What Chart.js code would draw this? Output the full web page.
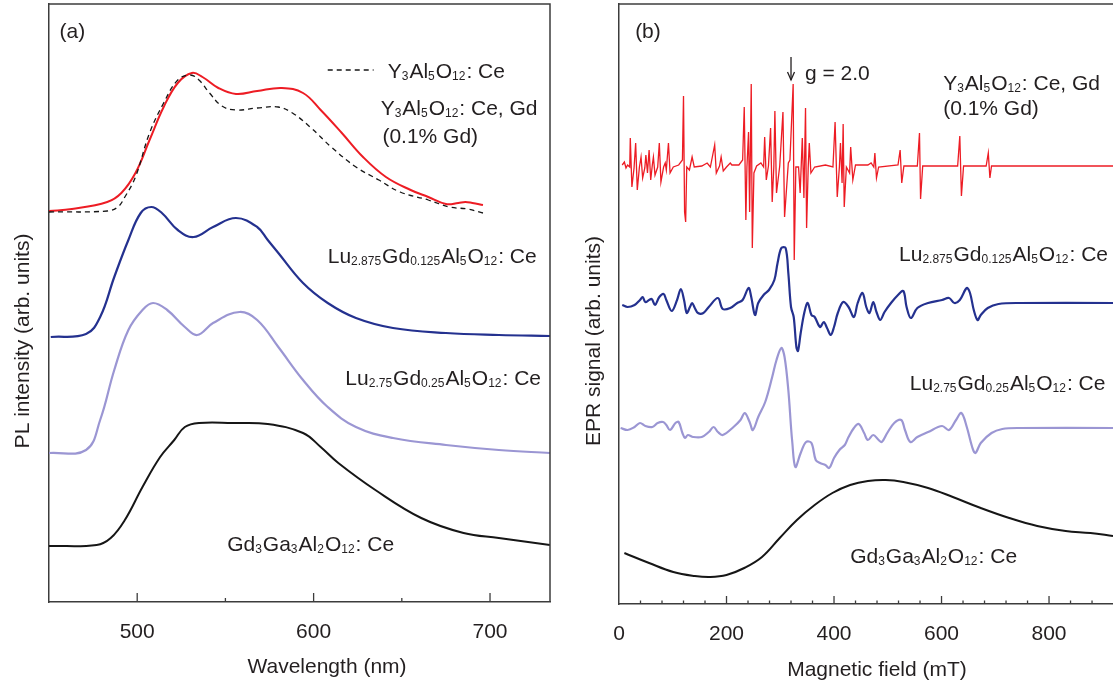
<!DOCTYPE html>
<html lang="en">
<head>
<meta charset="UTF-8" />
<title>PL and EPR spectra of garnet phosphors</title>
<script src="https://cdn.jsdelivr.net/npm/chart.js@4.4.0/dist/chart.umd.min.js"></script>
<style>
  html, body { margin: 0; padding: 0; background: #fff; overflow: hidden; }
  .wrap { position: relative; width: 1113px; height: 685px; }
  #plCanvas { position: absolute; left: 0; top: 0; }
  #eprCanvas { position: absolute; left: 560px; top: 0; }
</style>
</head>
<body>
<div class="wrap">
  <canvas id="plCanvas" width="560" height="685"></canvas>
  <canvas id="eprCanvas" width="553" height="685"></canvas>
</div>
<script>
// ---- (a) PL spectra: [wavelength nm, intensity arb. units] ----
const plYAG = [[450,390],[483,391],[489,395],[493,405],[499,425],[507,469],[515,499],[523,522],[530,527],[535,522],[541,509],[548,496],[556,492],[568,494],[580,495],[588,489],[598,475],[610,455],[624,435],[637,422],[649,410],[665,402],[677,395],[687,393],[696,389]];
const plYAGGd = [[450,391],[463,393],[483,400],[491,409],[499,429],[507,462],[515,495],[523,519],[531,529],[537,525],[546,514],[556,508],[568,511],[582,514],[594,509],[604,492],[616,469],[628,445],[641,425],[655,412],[665,405],[675,398],[682,399],[686,400],[690,399],[696,397]];
const plLu2875 = [[451,265],[471,268],[479,285],[487,325],[495,362],[502,389],[508,395],[514,389],[523,372],[532,365],[543,375],[556,384],[568,375],[574,362],[580,349],[594,319],[608,299],[624,284],[645,274],[675,269],[705,267],[734,266]];
const plLu275 = [[450,149],[471,152],[479,182],[487,232],[495,272],[503,292],[509,299],[517,292],[527,275],[534,267],[543,279],[558,290],[568,282],[580,255],[594,222],[608,195],[624,175],[645,164],[675,157],[705,152],[734,149]];
const plGGAG = [[450,56],[477,57],[485,64],[493,82],[503,115],[513,145],[521,162],[527,175],[535,179],[554,179],[574,178],[594,169],[604,155],[614,139],[635,112],[661,84],[685,69],[705,64],[734,57]];
const plTicks = [500, 600, 700];

// ---- (b) EPR spectra: [magnetic field mT, signal arb. units] ----
const eprYAGGd = [[6,439],[10,442],[13,436],[16,439],[20,437],[21,466],[24,417],[28,436],[31,461],[34,414],[38,437],[41,447],[44,426],[48,436],[50,449],[53,431],[56,454],[59,424],[62,439],[64,447],[67,429],[72,437],[75,461],[78,422],[83,437],[86,441],[88,434],[92,461],[95,431],[101,437],[111,439],[118,444],[120,508],[122,392],[124,382],[126,437],[131,434],[136,447],[140,437],[154,438],[164,441],[170,437],[178,459],[181,431],[187,438],[190,447],[194,433],[200,437],[207,441],[210,439],[223,439],[230,444],[233,497],[236,384],[238,437],[241,472],[243,392],[246,520],[248,356],[251,431],[256,438],[264,441],[269,437],[271,467],[274,424],[278,438],[282,476],[285,402],[288,437],[290,493],[293,411],[299,438],[305,492],[308,387],[315,441],[318,444],[324,520],[326,344],[329,437],[334,437],[337,411],[341,466],[344,406],[347,496],[349,376],[352,437],[354,461],[357,431],[364,437],[384,439],[398,437],[402,482],[406,407],[410,437],[412,461],[415,421],[417,480],[419,397],[423,437],[429,431],[431,457],[435,424],[440,439],[463,439],[469,441],[474,437],[476,451],[479,426],[483,437],[519,439],[523,454],[526,421],[530,438],[555,438],[559,471],[561,405],[565,438],[630,438],[634,468],[637,408],[641,438],[683,438],[687,451],[690,426],[693,438],[919,438]];
const eprLu2875 = [[6,299],[16,297],[29,299],[39,304],[44,307],[49,302],[56,304],[61,305],[67,299],[75,307],[83,310],[88,304],[98,293],[108,304],[115,315],[121,304],[126,291],[132,297],[136,301],[141,296],[147,291],[157,291],[167,297],[184,306],[193,295],[207,296],[220,301],[230,304],[241,316],[246,307],[253,289],[259,301],[269,309],[279,314],[289,324],[295,341],[302,356],[310,356],[315,331],[320,297],[325,287],[330,257],[333,253],[338,271],[345,292],[351,301],[358,289],[364,287],[374,277],[381,282],[387,276],[394,269],[400,277],[407,291],[417,302],[427,297],[437,287],[444,301],[453,311],[460,297],[466,291],[473,302],[479,292],[486,284],[494,292],[506,301],[519,309],[529,313],[535,297],[543,286],[555,296],[575,301],[601,304],[614,306],[624,301],[634,304],[647,316],[653,311],[660,294],[667,284],[673,289],[686,296],[706,300],[745,301],[919,301]];
const eprLu275 = [[3,176],[16,174],[29,177],[39,181],[49,178],[62,177],[72,181],[82,182],[88,179],[95,174],[105,181],[111,182],[118,171],[123,166],[128,169],[138,167],[154,167],[167,172],[176,177],[184,172],[193,169],[213,177],[226,184],[234,191],[243,182],[249,174],[259,187],[272,202],[285,227],[293,244],[302,256],[308,247],[315,214],[320,177],[322,164],[328,137],[338,151],[348,162],[358,161],[366,144],[374,141],[384,139],[391,136],[400,146],[410,154],[420,159],[427,167],[437,176],[446,180],[456,171],[463,164],[473,169],[483,164],[489,162],[499,171],[512,181],[525,184],[532,174],[542,162],[555,167],[575,172],[601,178],[614,174],[627,184],[637,191],[647,177],[657,157],[663,151],[673,161],[693,171],[713,175],[745,176],[919,176]];
const eprGGAG = [[10,51],[56,41],[101,32],[141,28],[170,27],[200,29],[233,36],[266,47],[299,66],[331,84],[364,99],[397,111],[430,119],[463,123],[496,124],[529,122],[575,116],[621,107],[673,96],[726,86],[778,78],[831,73],[877,71],[919,68]];
const eprTicks = [0, 200, 400, 600, 800];

const FONT = "'Liberation Sans', Arial, Helvetica, sans-serif";
const TEXT = '#231f20';
const AXIS = '#3c3c3c';
const RED = '#ed1c24', NAVY = '#24318f', LILAC = '#9b96d3', BLACK = '#161616';

Chart.defaults.font.family = FONT;
Chart.defaults.color = TEXT;

function series(pts, color, width, tension, dash) {
  return {
    data: pts.map(p => ({ x: p[0], y: p[1] })),
    borderColor: color,
    borderWidth: width,
    borderDash: dash || [],
    pointRadius: 0,
    fill: false,
    tension: tension
  };
}

// text with _{...} subscripts, anchored at left / vertical centre
function richText(ctx, str, x, yMid, size) {
  const base = yMid + size * 0.36;
  const subSize = Math.round(size * 0.57);
  const parts = str.split(/(_\{[^}]*\})/).filter(s => s.length);
  ctx.textAlign = 'left';
  ctx.textBaseline = 'alphabetic';
  parts.forEach(p => {
    if (p.startsWith('_{')) {
      ctx.font = subSize + 'px ' + FONT;
      const t = p.slice(2, -1);
      ctx.fillText(t, x, base + 2.5);
      x += ctx.measureText(t).width + 1;
    } else {
      ctx.font = size + 'px ' + FONT;
      ctx.fillText(p, x, base);
      x += ctx.measureText(p).width;
    }
  });
}

const decor = {
  id: 'decor',
  afterDraw(chart, args, o) {
    const { ctx, chartArea: a } = chart;
    const sx = chart.scales.x, sy = chart.scales.y;
    ctx.save();
    ctx.strokeStyle = AXIS;
    ctx.lineWidth = 1.5;
    ctx.beginPath();
    ctx.moveTo(a.left, a.top);
    if (o.closed) { ctx.lineTo(a.right, a.top); ctx.lineTo(a.right, a.bottom); }
    else ctx.lineTo(chart.width, a.top);
    ctx.stroke();

    // inward ticks on the bottom axis
    ctx.lineWidth = 1.3;
    o.major.forEach(v => {
      const px = sx.getPixelForValue(v);
      ctx.beginPath(); ctx.moveTo(px, a.bottom); ctx.lineTo(px, a.bottom - o.majorLen); ctx.stroke();
    });
    o.minor.forEach(v => {
      const px = sx.getPixelForValue(v);
      ctx.beginPath(); ctx.moveTo(px, a.bottom); ctx.lineTo(px, a.bottom - o.minorLen); ctx.stroke();
    });

    ctx.fillStyle = TEXT;
    o.labels.forEach(l => richText(ctx, l.text, sx.getPixelForValue(l.x), sy.getPixelForValue(l.y), 21));

    if (o.legendLine) {
      const L = o.legendLine;
      ctx.strokeStyle = BLACK; ctx.lineWidth = 1.3; ctx.setLineDash([5, 4]);
      const py = sy.getPixelForValue(L.y);
      ctx.beginPath(); ctx.moveTo(sx.getPixelForValue(L.x0), py); ctx.lineTo(sx.getPixelForValue(L.x1), py); ctx.stroke();
      ctx.setLineDash([]);
    }
    if (o.arrow) {
      const A = o.arrow;
      const px = sx.getPixelForValue(A.x), y0 = sy.getPixelForValue(A.y0), y1 = sy.getPixelForValue(A.y1);
      ctx.strokeStyle = TEXT; ctx.lineWidth = 1.3;
      ctx.beginPath(); ctx.moveTo(px, y0); ctx.lineTo(px, y1); ctx.stroke();
      ctx.beginPath(); ctx.moveTo(px - 3.5, y1 - 8); ctx.lineTo(px, y1); ctx.lineTo(px + 3.5, y1 - 8); ctx.stroke();
    }

    // axis titles
    ctx.font = '21px ' + FONT;
    ctx.textAlign = 'center';
    ctx.textBaseline = 'middle';
    ctx.fillText(o.xTitle, o.xTitlePos[0], o.xTitlePos[1]);
    ctx.translate(o.yTitlePos[0], o.yTitlePos[1]);
    ctx.rotate(-Math.PI / 2);
    ctx.fillText(o.yTitle, 0, 0);
    ctx.restore();
  }
};

function baseOptions(xMin, xMax, yMax, ticks, yWidth, xHeight, padRight) {
  return {
    responsive: false,
    animation: false,
    events: [],
    layout: { padding: { top: 4, right: padRight, left: 0, bottom: 0 } },
    scales: {
      x: {
        type: 'linear', min: xMin, max: xMax,
        afterBuildTicks: s => { s.ticks = ticks.map(v => ({ value: v })); },
        afterFit: s => { s.height = xHeight; },
        grid: { display: false, drawTicks: false },
        border: { display: true, color: AXIS, width: 1.5 },
        ticks: { font: { size: 21 }, padding: 18, color: TEXT, maxRotation: 0, autoSkip: false }
      },
      y: {
        min: 0, max: yMax,
        afterFit: s => { s.width = yWidth; },
        grid: { display: false, drawTicks: false },
        border: { display: true, color: AXIS, width: 1.5 },
        ticks: { display: false }
      }
    }
  };
}

const plOpts = baseOptions(450, 734, 598, plTicks, 49, 83, 10);
plOpts.plugins = {
  legend: { display: false },
  tooltip: { enabled: false },
  decor: {
    closed: true,
    major: plTicks, majorLen: 9,
    minor: [550, 650], minorLen: 4,
    legendLine: { x0: 608, x1: 634, y: 532 },
    labels: [
      { text: '(a)', x: 456, y: 572 },
      { text: 'Y_{3}Al_{5}O_{12}: Ce', x: 642, y: 532 },
      { text: 'Y_{3}Al_{5}O_{12}: Ce, Gd', x: 638, y: 495 },
      { text: '(0.1% Gd)', x: 639, y: 467 },
      { text: 'Lu_{2.875}Gd_{0.125}Al_{5}O_{12}: Ce', x: 608, y: 347 },
      { text: 'Lu_{2.75}Gd_{0.25}Al_{5}O_{12}: Ce', x: 618, y: 225 },
      { text: 'Gd_{3}Ga_{3}Al_{2}O_{12}: Ce', x: 551, y: 59 }
    ],
    xTitle: 'Wavelength (nm)', xTitlePos: [327, 667],
    yTitle: 'PL intensity (arb. units)', yTitlePos: [23, 341]
  }
};

new Chart(document.getElementById('plCanvas'), {
  type: 'line',
  data: {
    datasets: [
      series(plYAG, BLACK, 1.3, 0.4, [5, 4]),
      series(plYAGGd, RED, 2, 0.4),
      series(plLu2875, NAVY, 2.2, 0.4),
      series(plLu275, LILAC, 2.2, 0.4),
      series(plGGAG, BLACK, 2, 0.4)
    ]
  },
  options: plOpts,
  plugins: [decor]
});

const eprMinor = [];
for (let v = 40; v <= 919; v += 40) if (v % 200 !== 0) eprMinor.push(v);

const eprOpts = baseOptions(0, 919, 600, eprTicks, 59, 81, 0);
eprOpts.plugins = {
  legend: { display: false },
  tooltip: { enabled: false },
  decor: {
    closed: false,
    major: eprTicks.slice(1), majorLen: 8,
    minor: eprMinor, minorLen: 3.5,
    arrow: { x: 320, y0: 547, y1: 524 },
    labels: [
      { text: '(b)', x: 30, y: 574 },
      { text: 'g = 2.0', x: 346, y: 532 },
      { text: 'Y_{3}Al_{5}O_{12}: Ce, Gd', x: 603, y: 522 },
      { text: '(0.1% Gd)', x: 603, y: 497 },
      { text: 'Lu_{2.875}Gd_{0.125}Al_{5}O_{12}: Ce', x: 521, y: 351 },
      { text: 'Lu_{2.75}Gd_{0.25}Al_{5}O_{12}: Ce', x: 541, y: 222 },
      { text: 'Gd_{3}Ga_{3}Al_{2}O_{12}: Ce', x: 430, y: 49 }
    ],
    xTitle: 'Magnetic field (mT)', xTitlePos: [317, 670],
    yTitle: 'EPR signal (arb. units)', yTitlePos: [34, 341]
  }
};

new Chart(document.getElementById('eprCanvas'), {
  type: 'line',
  data: {
    datasets: [
      series(eprYAGGd, RED, 1.3, 0),
      series(eprLu2875, NAVY, 2.2, 0.35),
      series(eprLu275, LILAC, 2.2, 0.35),
      series(eprGGAG, BLACK, 2, 0.4)
    ]
  },
  options: eprOpts,
  plugins: [decor]
});
</script>
</body>
</html>
